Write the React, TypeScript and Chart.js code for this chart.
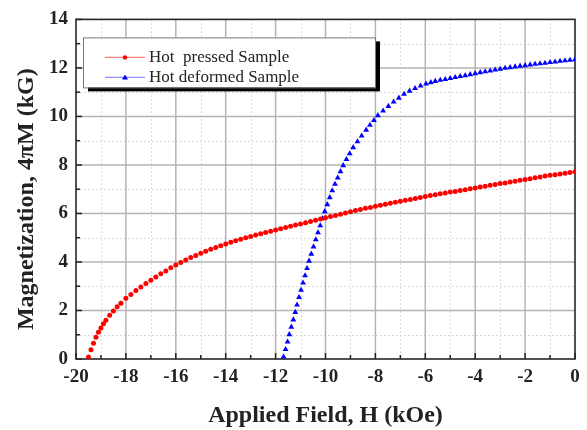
import React, { useEffect, useRef } from "react";
import { Chart, registerables } from "chart.js";
Chart.register(...registerables);

// ---- data ----
const redField = [
  -19.5, -19.4, -19.3, -19.2, -19.1, -19.0, -18.9, -18.8, -18.65, -18.5, -18.35, -18.2, -18.0,
  -17.8, -17.6, -17.4, -17.2, -17.0, -16.8, -16.6, -16.4, -16.2, -16.0,
  -15.8, -15.6, -15.4, -15.2, -15.0, -14.8, -14.6, -14.4, -14.2, -14.0,
  -13.8, -13.6, -13.4, -13.2, -13.0, -12.8, -12.6, -12.4, -12.2, -12.0,
  -11.8, -11.6, -11.4, -11.2, -11.0, -10.8, -10.6, -10.4, -10.2, -10.0,
  -9.8, -9.6, -9.4, -9.2, -9.0, -8.8, -8.6, -8.4, -8.2, -8.0,
  -7.8, -7.6, -7.4, -7.2, -7.0, -6.8, -6.6, -6.4, -6.2, -6.0,
  -5.8, -5.6, -5.4, -5.2, -5.0, -4.8, -4.6, -4.4, -4.2, -4.0,
  -3.8, -3.6, -3.4, -3.2, -3.0, -2.8, -2.6, -2.4, -2.2, -2.0,
  -1.8, -1.6, -1.4, -1.2, -1.0, -0.8, -0.6, -0.4, -0.2, 0.0,
];
const redMag = [
  0.08, 0.38, 0.65, 0.9, 1.1, 1.28, 1.45, 1.6, 1.8, 1.98, 2.15, 2.3, 2.5,
  2.66, 2.82, 2.97, 3.11, 3.25, 3.38, 3.51, 3.63, 3.76, 3.88,
  3.98, 4.08, 4.18, 4.27, 4.36, 4.44, 4.52, 4.6, 4.67, 4.74,
  4.81, 4.88, 4.94, 5.0, 5.05, 5.11, 5.16, 5.22, 5.27, 5.32,
  5.37, 5.42, 5.47, 5.52, 5.57, 5.62, 5.67, 5.72, 5.77, 5.82,
  5.87, 5.92, 5.97, 6.02, 6.07, 6.12, 6.16, 6.21, 6.25, 6.3,
  6.34, 6.38, 6.42, 6.46, 6.5, 6.54, 6.58, 6.62, 6.66, 6.7,
  6.74, 6.77, 6.81, 6.84, 6.88, 6.91, 6.95, 6.98, 7.02, 7.05,
  7.09, 7.12, 7.16, 7.19, 7.23, 7.26, 7.3, 7.33, 7.37, 7.4,
  7.43, 7.47, 7.5, 7.54, 7.57, 7.6, 7.63, 7.66, 7.69, 7.72,
];
const blueField = [
  -11.68, -11.6, -11.52, -11.45, -11.37, -11.29, -11.21, -11.14, -11.06, -10.98,
  -10.9, -10.82, -10.74, -10.66, -10.57, -10.48, -10.39, -10.3, -10.21, -10.12,
  -10.03, -9.93, -9.83, -9.73, -9.62, -9.51, -9.4, -9.29, -9.16, -9.03,
  -8.89, -8.72, -8.55, -8.37, -8.22, -8.06, -7.9, -7.69, -7.48, -7.27,
  -7.06, -6.85, -6.63, -6.41, -6.19, -5.97, -5.78,
  -5.6, -5.4, -5.2, -5.0, -4.8, -4.6, -4.4, -4.2, -4.0, -3.8,
  -3.6, -3.4, -3.2, -3.0, -2.8, -2.6, -2.4, -2.2, -2.0, -1.8,
  -1.6, -1.4, -1.2, -1.0, -0.8, -0.6, -0.4, -0.2, 0.0,
];
const blueMag = [
  0.09, 0.4, 0.71, 1.01, 1.32, 1.62, 1.93, 2.23, 2.54, 2.84,
  3.14, 3.44, 3.74, 4.04, 4.33, 4.63, 4.92, 5.21, 5.5, 5.79,
  6.08, 6.37, 6.66, 6.94, 7.21, 7.47, 7.73, 7.98, 8.23, 8.47,
  8.72, 8.96, 9.2, 9.44, 9.64, 9.84, 10.04, 10.23, 10.42, 10.6,
  10.76, 10.92, 11.05, 11.16, 11.26, 11.34, 11.4,
  11.45, 11.5, 11.53, 11.57, 11.61, 11.65, 11.69, 11.73, 11.77, 11.81,
  11.85, 11.88, 11.92, 11.95, 11.99, 12.02, 12.05, 12.08, 12.1, 12.13,
  12.16, 12.18, 12.2, 12.23, 12.25, 12.28, 12.3, 12.32, 12.34,
];
const xTickValues = [-20, -18, -16, -14, -12, -10, -8, -6, -4, -2, 0];
const yTickValues = [0, 2, 4, 6, 8, 10, 12, 14];
const seriesLabels = ["Hot  pressed Sample", "Hot deformed Sample"];
const xTitle = "Applied Field, H (kOe)";
const yTitle = "Magnetization, 4\u03C0M (kG)";

const RED = "#ff0000";
const BLUE = "#0000ff";
const SERIF = "'Liberation Serif', 'Times New Roman', serif";

const toPoints = (xs: number[], ys: number[]) =>
  xs.slice(0, Math.min(xs.length, ys.length)).map((v, i) => ({ x: v, y: ys[i] }));

const framePlugin = {
  id: "frameGrid",
  beforeDatasetsDraw(chart: any) {
    const { ctx, chartArea: a, scales } = chart;
    const xs = scales.x;
    const ys = scales.y;
    const line = (x1: number, y1: number, x2: number, y2: number) => {
      ctx.beginPath();
      ctx.moveTo(x1, y1);
      ctx.lineTo(x2, y2);
      ctx.stroke();
    };
    const xMinor: number[] = [];
    for (let i = 0; i < xTickValues.length - 1; i++) xMinor.push((xTickValues[i] + xTickValues[i + 1]) / 2);
    const yMinor: number[] = [];
    for (let i = 0; i < yTickValues.length - 1; i++) yMinor.push((yTickValues[i] + yTickValues[i + 1]) / 2);
    ctx.save();
    ctx.lineWidth = 1;
    ctx.strokeStyle = "#cfcfcf";
    ctx.setLineDash([1.5, 2.5]);
    xMinor.forEach((v) => {
      const p = Math.round(xs.getPixelForValue(v)) + 0.5;
      line(p, a.top, p, a.bottom);
    });
    yMinor.forEach((v) => {
      const p = Math.round(ys.getPixelForValue(v)) + 0.5;
      line(a.left, p, a.right, p);
    });
    ctx.setLineDash([]);
    ctx.strokeStyle = "#b4b4b4";
    ctx.lineWidth = 1.5;
    xTickValues.slice(1, -1).forEach((v) => {
      const p = xs.getPixelForValue(v);
      line(p, a.top, p, a.bottom);
    });
    yTickValues.slice(1, -1).forEach((v) => {
      const p = ys.getPixelForValue(v);
      line(a.left, p, a.right, p);
    });
    ctx.strokeStyle = "#222";
    ctx.lineWidth = 1.5;
    xTickValues.forEach((v) => {
      const p = xs.getPixelForValue(v);
      line(p, a.bottom, p, a.bottom - 6);
    });
    xMinor.forEach((v) => {
      const p = xs.getPixelForValue(v);
      line(p, a.bottom, p, a.bottom - 4);
    });
    yTickValues.forEach((v) => {
      const p = ys.getPixelForValue(v);
      line(a.left, p, a.left + 6, p);
    });
    yMinor.forEach((v) => {
      const p = ys.getPixelForValue(v);
      line(a.left, p, a.left + 4, p);
    });
    ctx.strokeStyle = "#262626";
    ctx.lineWidth = 1.6;
    ctx.strokeRect(a.left, a.top, a.right - a.left, a.bottom - a.top);
    ctx.restore();
  },
};

const legendPlugin = {
  id: "boxLegend",
  afterDatasetsDraw(chart: any) {
    const { ctx, chartArea: a } = chart;
    const bx = a.left + 7;
    const by = a.top + 18;
    const bw = 292;
    const bh = 50;
    ctx.save();
    ctx.fillStyle = "#000";
    ctx.fillRect(bx + 5, by + 4, bw, bh);
    ctx.fillStyle = "#fff";
    ctx.fillRect(bx, by, bw, bh);
    ctx.strokeStyle = "#777";
    ctx.lineWidth = 1;
    ctx.strokeRect(bx + 0.5, by + 0.5, bw, bh);
    const rows = [
      { color: RED, soft: "rgba(255,60,60,0.65)", style: "circle", y: by + 20 },
      { color: BLUE, soft: "rgba(70,70,255,0.6)", style: "triangle", y: by + 40 },
    ];
    rows.forEach((r, i) => {
      const x1 = bx + 22;
      const x2 = bx + 62;
      ctx.strokeStyle = r.soft;
      ctx.lineWidth = 1.2;
      ctx.beginPath();
      ctx.moveTo(x1, r.y);
      ctx.lineTo(x2, r.y);
      ctx.stroke();
      ctx.fillStyle = r.color;
      ctx.beginPath();
      const cx = (x1 + x2) / 2;
      if (r.style === "circle") {
        ctx.arc(cx, r.y, 2.2, 0, Math.PI * 2);
      } else {
        ctx.moveTo(cx, r.y - 3);
        ctx.lineTo(cx + 3, r.y + 2);
        ctx.lineTo(cx - 3, r.y + 2);
        ctx.closePath();
      }
      ctx.fill();
      ctx.fillStyle = "#222";
      ctx.font = `17px ${SERIF}`;
      ctx.textBaseline = "alphabetic";
      ctx.textAlign = "left";
      ctx.fillText(seriesLabels[i], bx + 66, r.y + 5);
    });
    ctx.restore();
  },
};

const yTitlePlugin = {
  id: "yTitle",
  afterDraw(chart: any) {
    const { ctx, chartArea: a } = chart;
    ctx.save();
    ctx.translate(27, (a.top + a.bottom) / 2 + 10);
    ctx.rotate(-Math.PI / 2);
    ctx.fillStyle = "#222";
    ctx.font = `bold 24px ${SERIF}`;
    ctx.textAlign = "center";
    ctx.textBaseline = "middle";
    ctx.fillText(yTitle, 0, 0);
    ctx.restore();
  },
};

export default function App() {
  const ref = useRef<HTMLCanvasElement>(null);
  useEffect(() => {
    if (!ref.current) return;
    const chart = new Chart(ref.current, {
      type: "scatter",
      data: {
        datasets: [
          {
            label: seriesLabels[0],
            data: toPoints(redField, redMag),
            showLine: false,
            pointStyle: "circle",
            pointRadius: 2.5,
            pointBorderWidth: 0,
            backgroundColor: RED,
            borderColor: RED,
          },
          {
            label: seriesLabels[1],
            data: toPoints(blueField, blueMag),
            showLine: false,
            pointStyle: "triangle",
            pointRadius: 3.4,
            pointBorderWidth: 0,
            backgroundColor: BLUE,
            borderColor: BLUE,
          },
        ],
      },
      options: {
        animation: false,
        responsive: false,
        devicePixelRatio: 1,
        layout: { padding: { top: 14, right: 12, left: 0, bottom: 0 } },
        plugins: { legend: { display: false }, tooltip: { enabled: false } },
        scales: {
          x: {
            type: "linear",
            min: -20,
            max: 0,
            afterBuildTicks: (s: any) => {
              s.ticks = xTickValues.map((v) => ({ value: v }));
            },
            afterFit: (s: any) => {
              s.height = 71;
            },
            grid: { display: false, drawTicks: false },
            border: { display: false },
            ticks: {
              padding: 7,
              color: "#222",
              font: { family: SERIF, size: 19, weight: "bold" },
              callback: (v: any) => String(v),
            },
            title: {
              display: true,
              text: xTitle,
              color: "#222",
              font: { family: SERIF, size: 24, weight: "bold", lineHeight: 1.1 },
              padding: { top: 0, bottom: 1 },
            },
          },
          y: {
            type: "linear",
            min: 0,
            max: 14,
            afterBuildTicks: (s: any) => {
              s.ticks = yTickValues.map((v) => ({ value: v }));
            },
            afterFit: (s: any) => {
              s.width = 76;
            },
            grid: { display: false, drawTicks: false },
            border: { display: false },
            ticks: {
              padding: 8,
              color: "#222",
              font: { family: SERIF, size: 19, weight: "bold" },
              callback: (v: any) => String(v),
            },
            title: { display: false },
          },
        },
      },
      plugins: [framePlugin, legendPlugin, yTitlePlugin],
    } as any);
    return () => chart.destroy();
  }, []);
  return (
    <div style={{ position: "fixed", left: 0, top: 0, width: 587, height: 430, background: "#fff" }}>
      <canvas ref={ref} width={587} height={430} style={{ display: "block" }} />
    </div>
  );
}
